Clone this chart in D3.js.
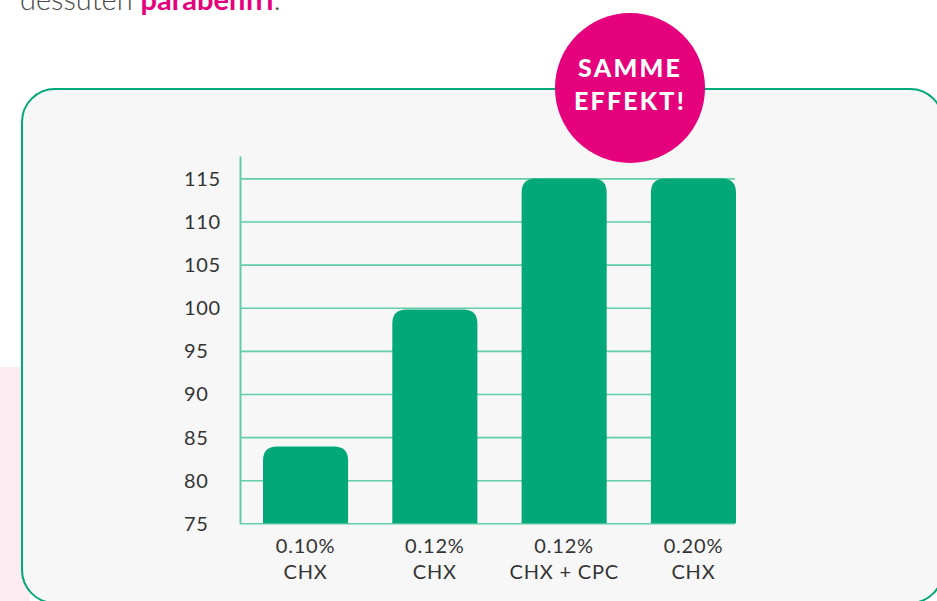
<!DOCTYPE html>
<html>
<head>
<meta charset="utf-8">
<script src="https://cdn.jsdelivr.net/npm/d3@7"></script>
<style>
  html, body { margin: 0; padding: 0; background: #fff; }
  svg { display: block; }
  text { font-family: Lato, "Open Sans", sans-serif; }
</style>
</head>
<body>
<div id="chart"></div>
<script>
// values
var categories = ["0.10% CHX", "0.12% CHX", "0.12% CHX + CPC", "0.20% CHX"];
var labelTop = ["0.10%", "0.12%", "0.12%", "0.20%"];
var labelBottom = ["CHX", "CHX", "CHX + CPC", "CHX"];
var values = [83.9, 99.8, 115, 115];
var yTicks = [75, 80, 85, 90, 95, 100, 105, 110, 115];
var badgeLines = ["SAMME", "EFFEKT!"];

var W = 937, H = 601;
var green = "#02a877", gridGreen = "#62cea6", pink = "#e5007c";

var svg = d3.select("#chart").append("svg")
  .attr("width", W).attr("height", H);

// faint pink shape at the far left
svg.append("rect")
  .attr("x", 0).attr("y", 367).attr("width", 30).attr("height", 240)
  .attr("fill", "#fcebf1");

// intro text, cut at the top like in the source
var intro = svg.append("text")
  .attr("x", 20).attr("y", 10)
  .attr("font-size", 29);
intro.append("tspan").attr("fill", "#4a4a4a").attr("font-weight", 300).text("dessuten ");
intro.append("tspan").attr("fill", pink).attr("font-weight", 700).text("parabenfri");
intro.append("tspan").attr("fill", "#4a4a4a").attr("font-weight", 300).text(".");

// panel
svg.append("rect")
  .attr("x", 22).attr("y", 89)
  .attr("width", 921).attr("height", 514)
  .attr("rx", 33)
  .attr("fill", "#f7f7f7")
  .attr("stroke", green)
  .attr("stroke-width", 2);

var y = d3.scaleLinear().domain([75, 117.6]).range([523.3, 156]);
var x = d3.scaleBand().domain(categories).range([263, 736])
  .paddingInner(0.342).paddingOuter(0);

// y axis with grid lines
var yAxis = svg.append("g")
  .attr("transform", "translate(240,0)")
  .call(d3.axisLeft(y).tickValues(yTicks).tickSize(-495).tickSizeOuter(0).tickPadding(0));
yAxis.select(".domain").attr("stroke", gridGreen).attr("stroke-width", 2);
yAxis.selectAll(".tick line").attr("stroke", gridGreen).attr("stroke-width", 1.6);
yAxis.selectAll(".tick text")
  .attr("x", -56)
  .attr("dy", "0.35em")
  .attr("text-anchor", "start")
  .attr("font-size", 20)
  .attr("letter-spacing", 0.6)
  .attr("fill", "#333")
  .style("font-family", "Lato, sans-serif");

// bars, rounded at the top only
var r = 14;
var base = y(75);
svg.append("g").selectAll("path")
  .data(values)
  .enter()
  .append("path")
  .attr("fill", green)
  .attr("d", function(d, i) {
    var x0 = x(categories[i]), w = x.bandwidth(), top = y(d);
    return "M" + x0 + "," + base +
      "V" + (top + r) +
      "Q" + x0 + "," + top + " " + (x0 + r) + "," + top +
      "H" + (x0 + w - r) +
      "Q" + (x0 + w) + "," + top + " " + (x0 + w) + "," + (top + r) +
      "V" + base + "Z";
  });

// x axis labels on two lines
var xAxis = svg.append("g")
  .attr("transform", "translate(0," + base + ")")
  .call(d3.axisBottom(x).tickSize(0).tickFormat(""));
xAxis.select(".domain").remove();
xAxis.selectAll(".tick").each(function(d, i) {
  var t = d3.select(this).append("text")
    .attr("text-anchor", "middle")
    .attr("font-size", 20)
    .attr("letter-spacing", 0.8)
    .attr("fill", "#333");
  t.append("tspan").attr("x", 0).attr("y", 30).text(labelTop[i]);
  t.append("tspan").attr("x", 0).attr("y", 56).text(labelBottom[i]);
});

// badge
var badge = svg.append("g").attr("transform", "translate(630,88)");
badge.append("circle").attr("r", 75).attr("fill", pink);
badge.selectAll("text")
  .data(badgeLines)
  .enter()
  .append("text")
  .attr("text-anchor", "middle")
  .attr("y", function(d, i) { return i === 0 ? -11 : 21.5; })
  .attr("font-size", 25)
  .attr("font-weight", 900)
  .attr("fill", "#fff")
  .attr("letter-spacing", 2.2)
  .text(function(d) { return d; });
</script>
</body>
</html>
